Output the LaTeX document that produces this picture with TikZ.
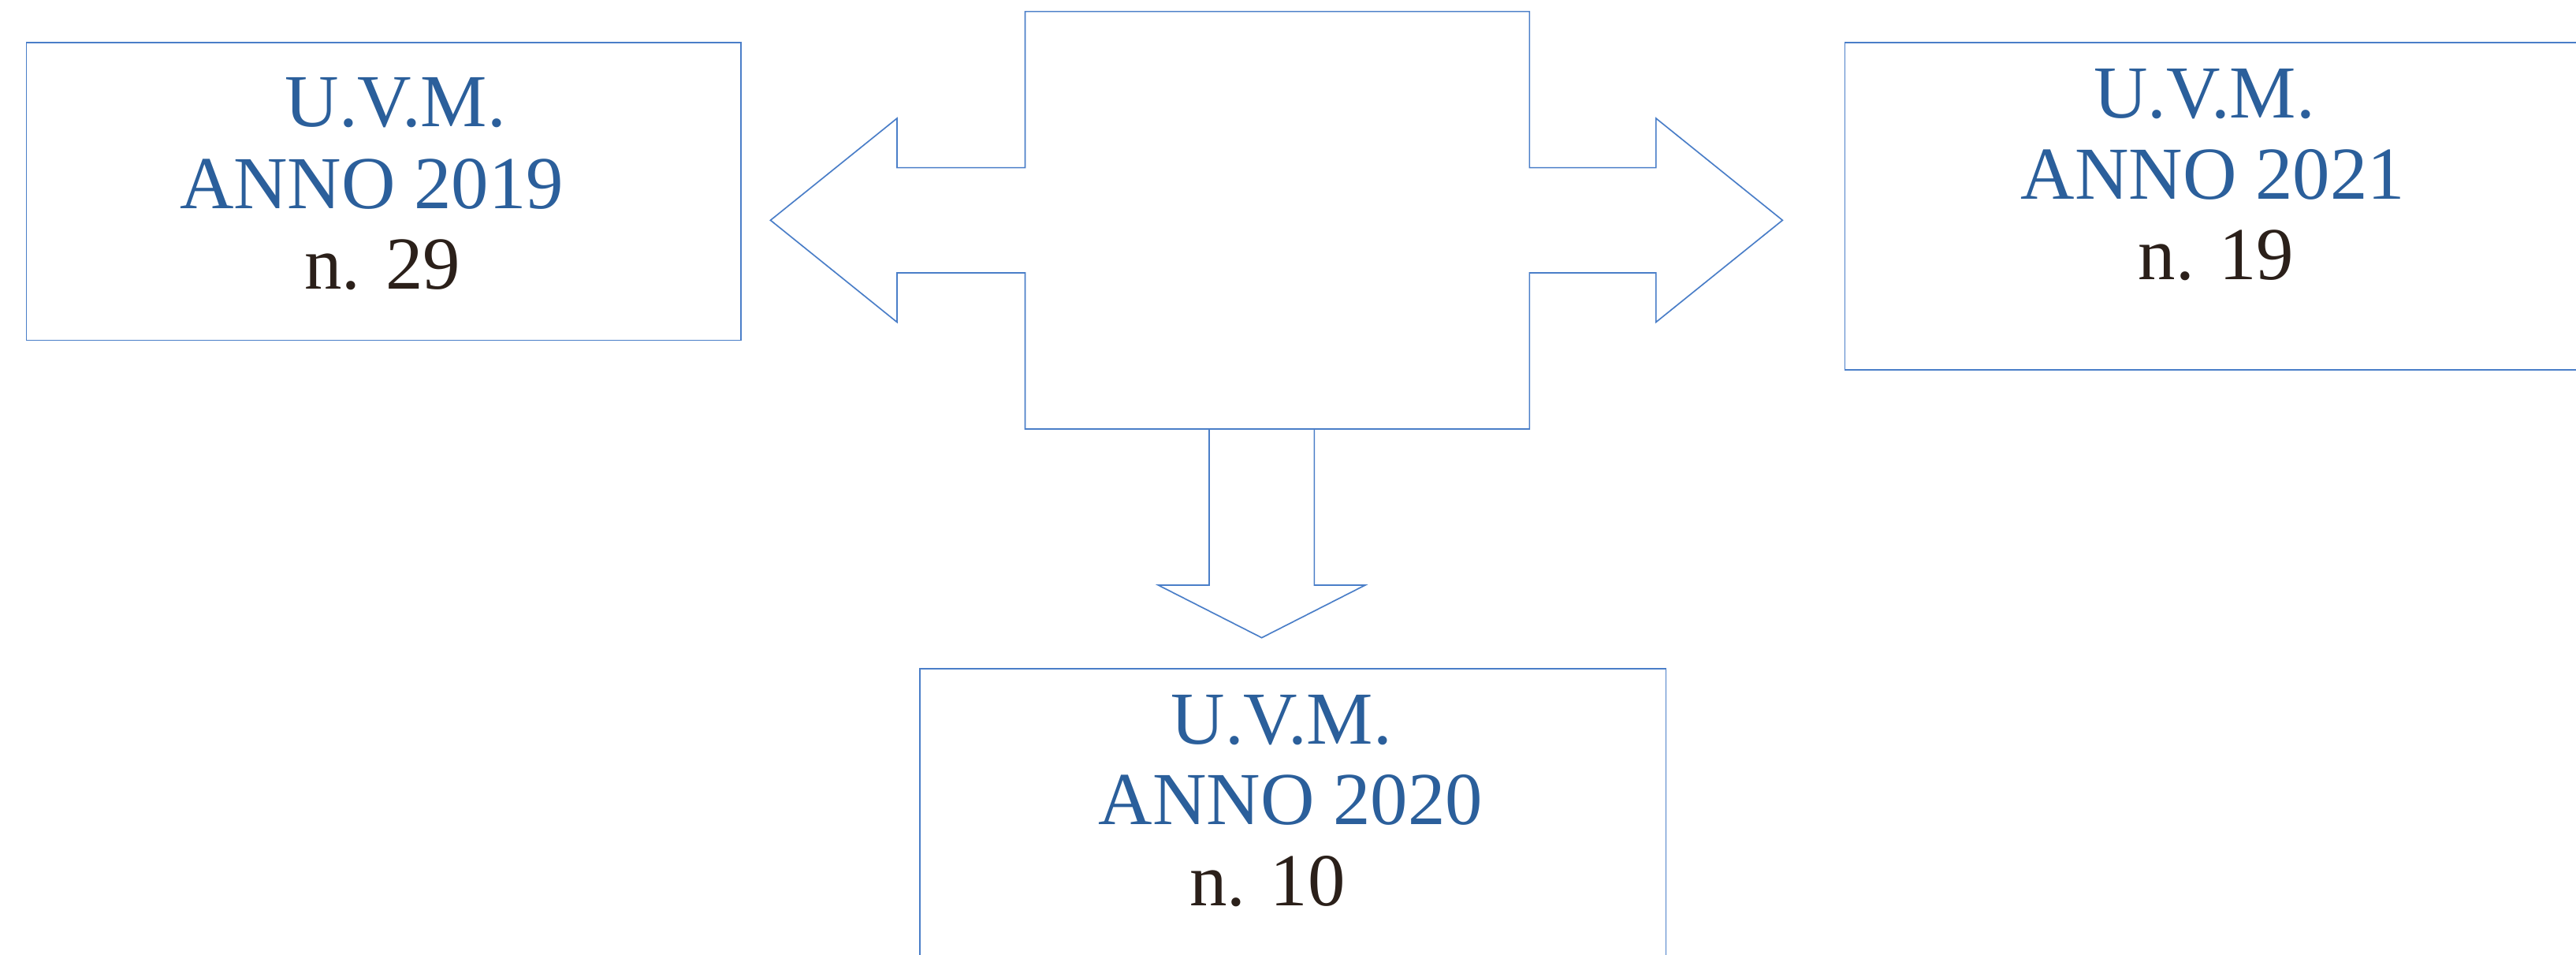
\documentclass[tikz,border=0pt]{standalone}
\usepackage{fontspec}
\setmainfont{Liberation Serif}
\definecolor{lineblue}{HTML}{4A7EC8}
\definecolor{txtblue}{HTML}{2B5F9B}
\definecolor{txtdark}{HTML}{2B201A}
\tikzset{
  boxnode/.style={draw=lineblue, line width=0.8pt, rectangle, anchor=north west, inner sep=0pt, outer sep=0pt},
  shapeline/.style={draw=lineblue, line width=0.8pt, line join=miter},
  bluetxt/.style={anchor=base, inner sep=0pt, text=txtblue, font=\fontsize{45.5}{54}\selectfont},
  darktxt/.style={anchor=base, inner sep=0pt, text=txtdark, font=\fontsize{45.5}{54}\selectfont}
}
\begin{document}
\begin{tikzpicture}[x=1pt,y=-1pt]
\useasboundingbox (0,0) rectangle (1568,581);
\clip (0,0) rectangle (1568,581);
\fill[white] (0,0) rectangle (1568,581);
% boxes
\node[boxnode, minimum width=435pt, minimum height=181pt] (b2019) at (16,26) {};
\node[boxnode, minimum width=460pt, minimum height=199pt] (b2021) at (1123,26) {};
\node[boxnode, minimum width=454pt, minimum height=200pt] (b2020) at (560,407) {};
% texts
\node[bluetxt] (t19a) at (240.7,76.8) {U.V.M.};
\node[bluetxt] (t19b) at (226.3,127) {ANNO 2019};
\node[darktxt] (t19c) at (232.8,176) {n. 29};
\node[bluetxt] (t21a) at (1341.8,71.8) {U.V.M.};
\node[bluetxt] (t21b) at (1347,121) {ANNO 2021};
\node[darktxt] (t21c) at (1349,170) {n. 19};
\node[bluetxt] (t20a) at (780,452.8) {U.V.M.};
\node[bluetxt] (t20b) at (785.7,501.6) {ANNO 2020};
\node[darktxt] (t20c) at (771.5,551) {n. 10};
% central double arrow shape
\draw[shapeline] (624,7) -- (931,7) -- (931,102) -- (1008,102) -- (1008,72) -- (1085,134)
  -- (1008,196) -- (1008,166) -- (931,166) -- (931,261) -- (624,261) -- (624,166)
  -- (546,166) -- (546,196) -- (469,134) -- (546,72) -- (546,102) -- (624,102) -- cycle;
% down arrow
\draw[shapeline] (736,261) -- (736,356) -- (705,356) -- (768,388) -- (831,356)
  -- (800,356) -- (800,261) -- cycle;
\end{tikzpicture}
\end{document}
